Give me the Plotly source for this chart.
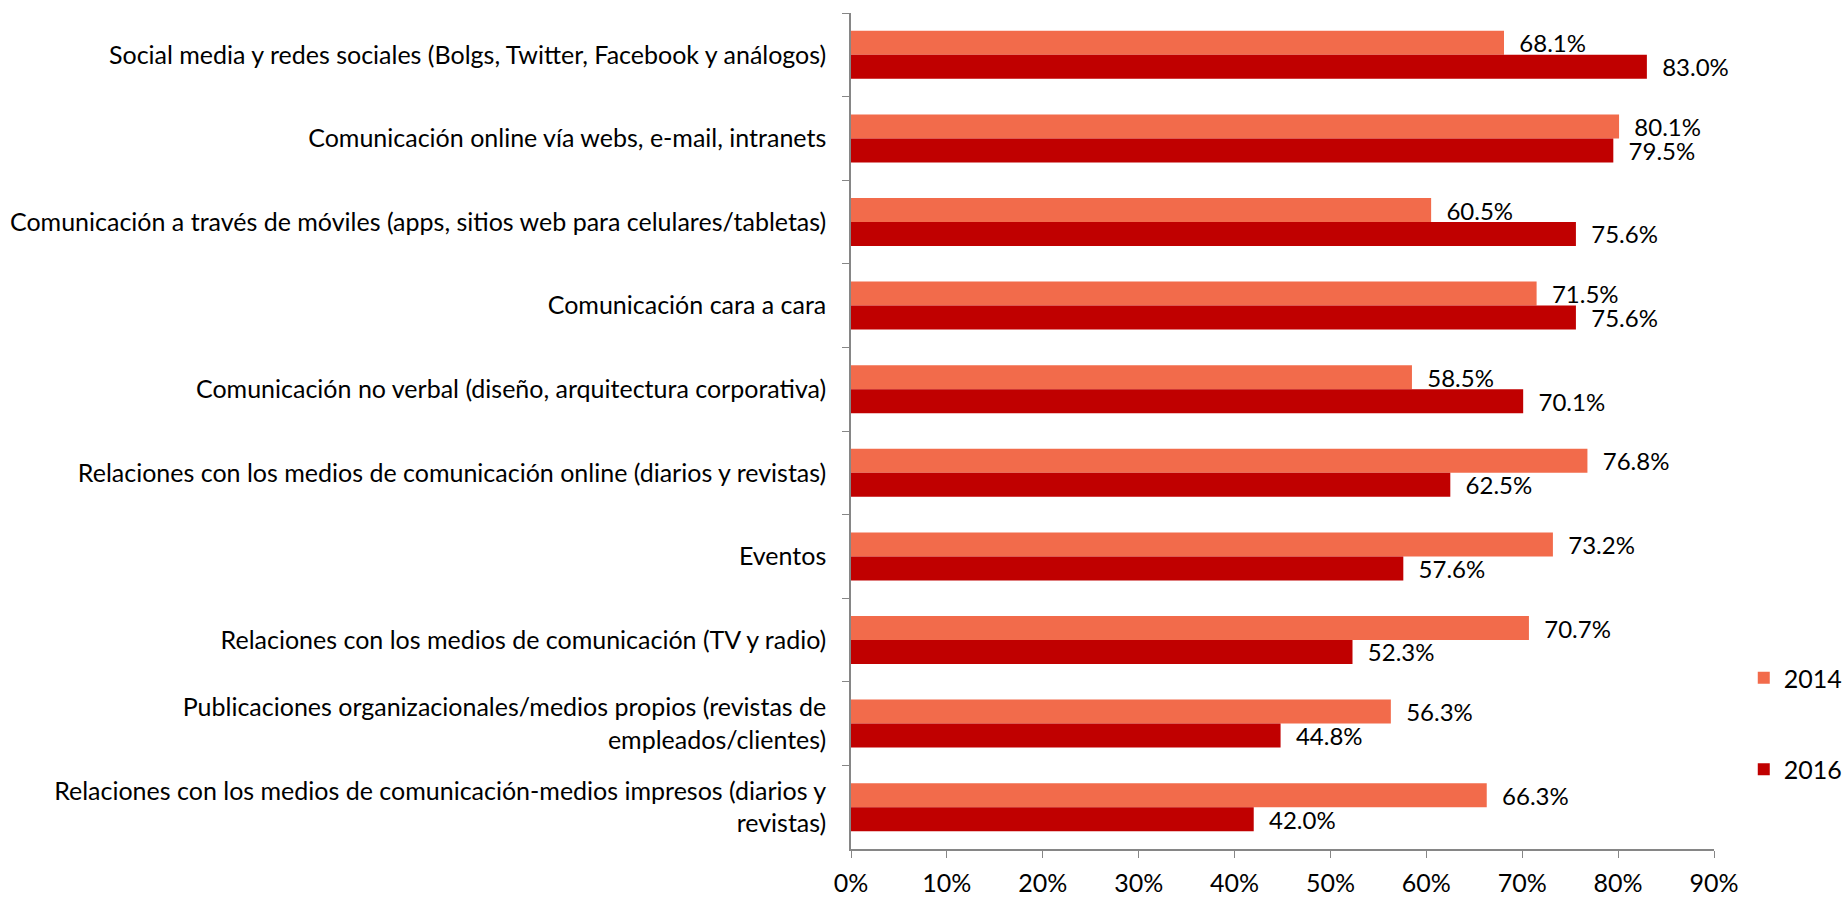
import plotly.graph_objects as go

categories = [
    "Social media y redes sociales (Bolgs, Twitter, Facebook y análogos)",
    "Comunicación online vía webs, e-mail, intranets",
    "Comunicación a través de móviles (apps, sitios web para celulares/tabletas)",
    "Comunicación cara a cara",
    "Comunicación no verbal (diseño, arquitectura corporativa)",
    "Relaciones con los medios de comunicación online (diarios y revistas)",
    "Eventos",
    "Relaciones con los medios de comunicación (TV y radio)",
    "Publicaciones organizacionales/medios propios (revistas de<br>empleados/clientes)",
    "Relaciones con los medios de comunicación-medios impresos (diarios y<br>revistas)",
]
values_2014 = [68.1, 80.1, 60.5, 71.5, 58.5, 76.8, 73.2, 70.7, 56.3, 66.3]
values_2016 = [83.0, 79.5, 75.6, 75.6, 70.1, 62.5, 57.6, 52.3, 44.8, 42.0]
x_ticks = [0, 10, 20, 30, 40, 50, 60, 70, 80, 90]

FONT = "Lato, sans-serif"
SIZE = 25

fig = go.Figure()
for name, vals, color in [("2014", values_2014, "#F26B4B"), ("2016", values_2016, "#C00000")]:
    fig.add_trace(go.Bar(
        y=categories, x=vals, name=name, orientation="h",
        marker=dict(color=color, line=dict(width=0)),
        text=[f"  {v:.1f}%" for v in vals], textposition="outside",
        constraintext="none",
        textfont=dict(family=FONT, size=24, color="#000000"),
        cliponaxis=False, legendgroup=name,
    ))

fig.update_layout(
    width=1843, height=897,
    margin=dict(l=851, r=129, t=13, b=48, autoexpand=False),
    paper_bgcolor="white", plot_bgcolor="white",
    barmode="group", bargap=0.426, bargroupgap=0,
    font=dict(family=FONT, size=SIZE, color="#000000"),
    showlegend=True,
    legend=dict(x=1.155, y=0.15, xanchor="right", yanchor="middle",
                traceorder="grouped", tracegroupgap=56,
                font=dict(family=FONT, size=SIZE), itemwidth=30),
    xaxis=dict(range=[0, 90], tickvals=x_ticks, ticktext=[f"{t}%" for t in x_ticks],
               showgrid=False, zeroline=False, showline=True, linecolor="#868686",
               linewidth=1.5, ticks="outside", ticklen=7, tickcolor="#868686",
               ticklabelstandoff=4, tickfont=dict(family=FONT, size=SIZE)),
    yaxis=dict(autorange="reversed", showgrid=False, showline=True, linecolor="#868686",
               linewidth=1.5, ticks="outside", ticklen=7, tickcolor="#868686",
               tickson="boundaries", ticklabelstandoff=18,
               tickfont=dict(family=FONT, size=SIZE)),
)

fig.write_html("out.html")
